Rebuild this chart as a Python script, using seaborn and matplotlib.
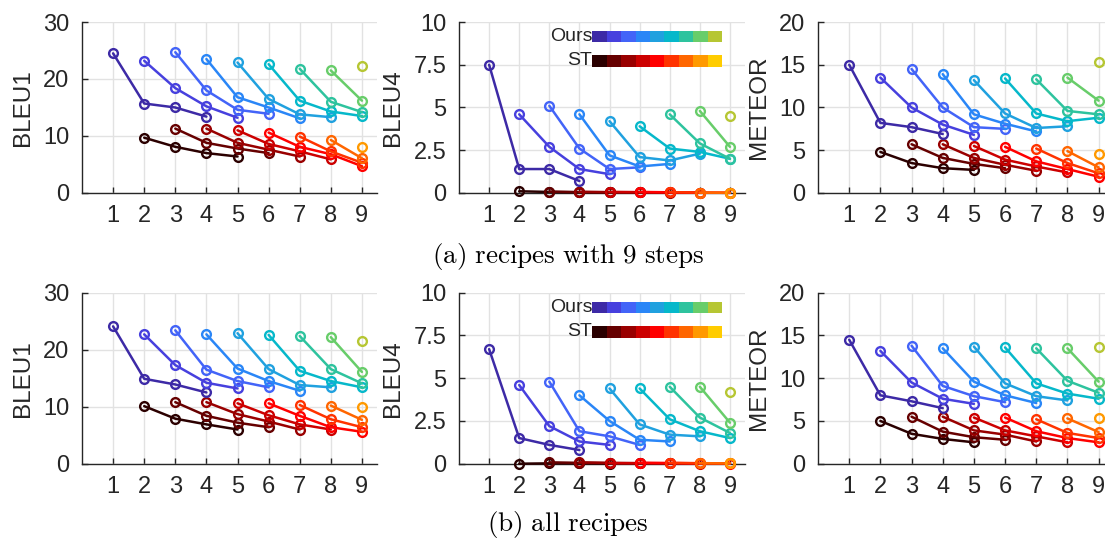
import numpy as np
import pandas as pd
import matplotlib
matplotlib.use('Agg')
import matplotlib.pyplot as plt
from matplotlib.patches import Rectangle
import seaborn as sns

#Steps on the x axis
steps = list(range(1, 10))

#One colour per starting step (parula for ours, hot for ST)
ours_colors = ['#3d2aa6', '#4740de', '#4364f8', '#2a86f7', '#20a1df',
               '#06b8ca', '#2ec39e', '#68cd6a', '#b6c633']
st_colors = ['#2b0000', '#660000', '#990000', '#cc0000', '#ff0000',
             '#ff3300', '#ff6600', '#ff9900', '#ffcc00']

#(a) recipes with 9 steps
#ours: line i starts at step i+1, ST: line i starts at step i+2
bleu1_a_ours = [[24.5, 15.7, 15.0, 13.4], [23.2, 18.4, 15.2, 13.2], [24.7, 18.0, 14.6, 13.9],
                [23.5, 16.8, 15.0, 13.1], [22.9, 16.5, 13.8, 13.3], [22.6, 16.2, 14.3, 13.5],
                [21.8, 16.0, 14.2], [21.5, 16.2], [22.2]]
bleu1_a_st = [[9.7, 8.1, 7.0, 6.4], [11.3, 8.8, 7.8, 7.0], [11.3, 8.8, 7.6, 6.4],
              [11.0, 8.6, 7.3, 5.9], [10.6, 8.1, 6.8, 4.7], [9.9, 7.3, 5.3],
              [9.3, 6.1], [8.1]]
bleu4_a_ours = [[7.5, 1.4, 1.4, 0.7], [4.6, 2.7, 1.4, 1.1], [5.1, 2.6, 1.4, 1.5],
                [4.6, 2.2, 1.55, 1.7], [4.2, 2.1, 1.9, 2.3], [3.9, 2.6, 2.4, 2.0],
                [4.6, 2.9, 2.0], [4.8, 2.7], [4.5]]
bleu4_a_st = [[0.1, 0.06, 0.04, 0.03], [0.08, 0.05, 0.04, 0.03], [0.07, 0.05, 0.04, 0.02],
              [0.06, 0.05, 0.03, 0.02], [0.06, 0.04, 0.02, 0.01], [0.05, 0.02, 0.01],
              [0.02, 0.01], [0.01]]
meteor_a_ours = [[15.0, 8.2, 7.7, 6.9], [13.5, 10.0, 8.0, 6.8], [14.5, 10.0, 7.7, 7.5],
                 [13.9, 9.2, 8.1, 7.2], [13.2, 9.3, 7.6, 7.8], [13.4, 9.3, 8.4, 8.8],
                 [13.3, 9.6, 9.2], [13.5, 10.8], [15.3]]
meteor_a_st = [[4.8, 3.5, 2.9, 2.7], [5.7, 4.1, 3.4, 2.9], [5.7, 4.1, 3.3, 2.6],
               [5.5, 3.9, 3.1, 2.4], [5.4, 3.7, 2.8, 1.9], [5.2, 3.5, 2.3],
               [4.9, 3.0], [4.6]]

#(b) all recipes
bleu1_b_ours = [[24.1, 14.9, 13.9, 12.5], [22.7, 17.3, 14.2, 13.2], [23.4, 16.5, 14.5, 13.4],
                [22.7, 16.7, 14.5, 12.8], [22.9, 16.6, 13.8, 13.4], [22.6, 16.3, 14.5, 13.4],
                [22.4, 16.6, 14.1], [22.2, 16.1], [21.6]]
bleu1_b_st = [[10.1, 7.9, 6.9, 6.0], [10.8, 8.4, 7.2, 6.4], [10.8, 8.7, 7.4, 6.0],
              [10.6, 8.5, 6.9, 6.0], [10.6, 8.4, 6.4, 5.6], [10.3, 7.8, 6.4],
              [10.2, 7.7], [10.0]]
bleu4_b_ours = [[6.7, 1.5, 1.1, 0.8], [4.6, 2.2, 1.3, 1.1], [4.8, 1.9, 1.6, 1.1],
                [4.0, 2.5, 1.4, 1.3], [4.4, 2.3, 1.7, 1.6], [4.4, 2.6, 1.9, 1.5],
                [4.5, 2.7, 1.8], [4.5, 2.4], [4.2]]
bleu4_b_st = [[0.0, 0.02, 0.02, 0.01], [0.08, 0.05, 0.03, 0.02], [0.08, 0.05, 0.03, 0.02],
              [0.03, 0.03, 0.02, 0.01], [0.06, 0.04, 0.02, 0.01], [0.05, 0.03, 0.02],
              [0.03, 0.02], [0.03]]
meteor_b_ours = [[14.5, 8.0, 7.3, 6.5], [13.2, 9.5, 7.6, 7.0], [13.8, 9.1, 7.9, 7.2],
                 [13.5, 9.6, 8.0, 7.1], [13.7, 9.4, 7.9, 7.4], [13.6, 9.4, 8.2, 7.6],
                 [13.5, 9.7, 8.3], [13.5, 9.6], [13.6]]
meteor_b_st = [[5.0, 3.5, 2.9, 2.5], [5.5, 3.75, 3.1, 2.8], [5.5, 3.9, 3.4, 2.6],
               [5.4, 3.9, 3.2, 2.5], [5.4, 3.8, 3.0, 2.5], [5.2, 3.6, 3.0],
               [5.3, 3.7], [5.3]]

sns.set_theme(style='whitegrid')
plt.rcParams['font.family'] = ['Liberation Sans', 'DejaVu Sans']
plt.rcParams['mathtext.fontset'] = 'cm'
txt = '#262626'


def draw_panel(ax, ours, st, ymax, yticks, ylabel, legend=False):
    #ST lines first, then ours
    for i, vals in enumerate(st):
        xs = steps[i + 1:i + 1 + len(vals)]
        sns.lineplot(x=xs, y=vals, ax=ax, color=st_colors[i], marker='o',
                     ms=6.3, mfc='none', mec=st_colors[i], mew=1.7, lw=1.8,
                     clip_on=False, zorder=3)
    for i, vals in enumerate(ours):
        xs = steps[i:i + len(vals)]
        sns.lineplot(x=xs, y=vals, ax=ax, color=ours_colors[i], marker='o',
                     ms=6.3, mfc='none', mec=ours_colors[i], mew=1.7, lw=1.8,
                     clip_on=False, zorder=3)

    ax.set_xlim(0, 9.5)
    ax.set_ylim(0, ymax)
    ax.set_xticks(steps)
    ax.set_yticks(yticks)
    ax.set_yticklabels([f'{t:g}' for t in yticks])
    ax.grid(True, color='#e2e2e2', lw=1)
    ax.set_axisbelow(True)
    ax.spines[['top', 'right']].set_visible(False)
    for s in ['left', 'bottom']:
        ax.spines[s].set_color(txt)
        ax.spines[s].set_linewidth(1)
    ax.tick_params(direction='in', length=4, width=1, colors=txt,
                   labelsize=17, pad=9, bottom=True, left=True)
    ax.set_ylabel(ylabel, fontsize=17.5, color=txt, labelpad=7)
    ax.set_xlabel('')

    if legend:
        #colour-strip legend, one cell per starting step
        for j in range(9):
            ax.add_patch(Rectangle((0.466 + j * 0.0505, 0.883), 0.0505, 0.064,
                                   transform=ax.transAxes, color=ours_colors[j],
                                   lw=0, zorder=5))
            ax.add_patch(Rectangle((0.466 + j * 0.0505, 0.737), 0.0505, 0.07,
                                   transform=ax.transAxes, color=st_colors[j],
                                   lw=0, zorder=5))
        ax.text(0.466, 0.915, 'Ours', transform=ax.transAxes, ha='right',
                va='center', fontsize=14, color=txt)
        ax.text(0.466, 0.772, 'ST', transform=ax.transAxes, ha='right',
                va='center', fontsize=14, color=txt)


fig = plt.figure(figsize=(11.05, 5.38), dpi=100)

lefts = [0.0742, 0.4154, 0.7403]
widths = [0.2674, 0.2588, 0.268]
bottoms = [0.6413, 0.1381]
height = 0.3178

rows = [(bleu1_a_ours, bleu1_a_st, bleu4_a_ours, bleu4_a_st, meteor_a_ours, meteor_a_st),
        (bleu1_b_ours, bleu1_b_st, bleu4_b_ours, bleu4_b_st, meteor_b_ours, meteor_b_st)]

for r, data in enumerate(rows):
    ax1 = fig.add_axes([lefts[0], bottoms[r], widths[0], height])
    draw_panel(ax1, data[0], data[1], 30, [0, 10, 20, 30], 'BLEU1')
    ax2 = fig.add_axes([lefts[1], bottoms[r], widths[1], height])
    draw_panel(ax2, data[2], data[3], 10, [0, 2.5, 5, 7.5, 10], 'BLEU4', legend=True)
    ax3 = fig.add_axes([lefts[2], bottoms[r], widths[2], height])
    draw_panel(ax3, data[4], data[5], 20, [0, 5, 10, 15, 20], 'METEOR')

fig.text(0.514, 0.511, r'$\mathrm{(a)\ recipes\ with\ 9\ steps}$', ha='center',
         va='baseline', fontsize=19.5, color='black')
fig.text(0.514, 0.0135, r'$\mathrm{(b)\ all\ recipes}$', ha='center',
         va='baseline', fontsize=19.5, color='black')

fig.savefig('out.png', dpi=100)
